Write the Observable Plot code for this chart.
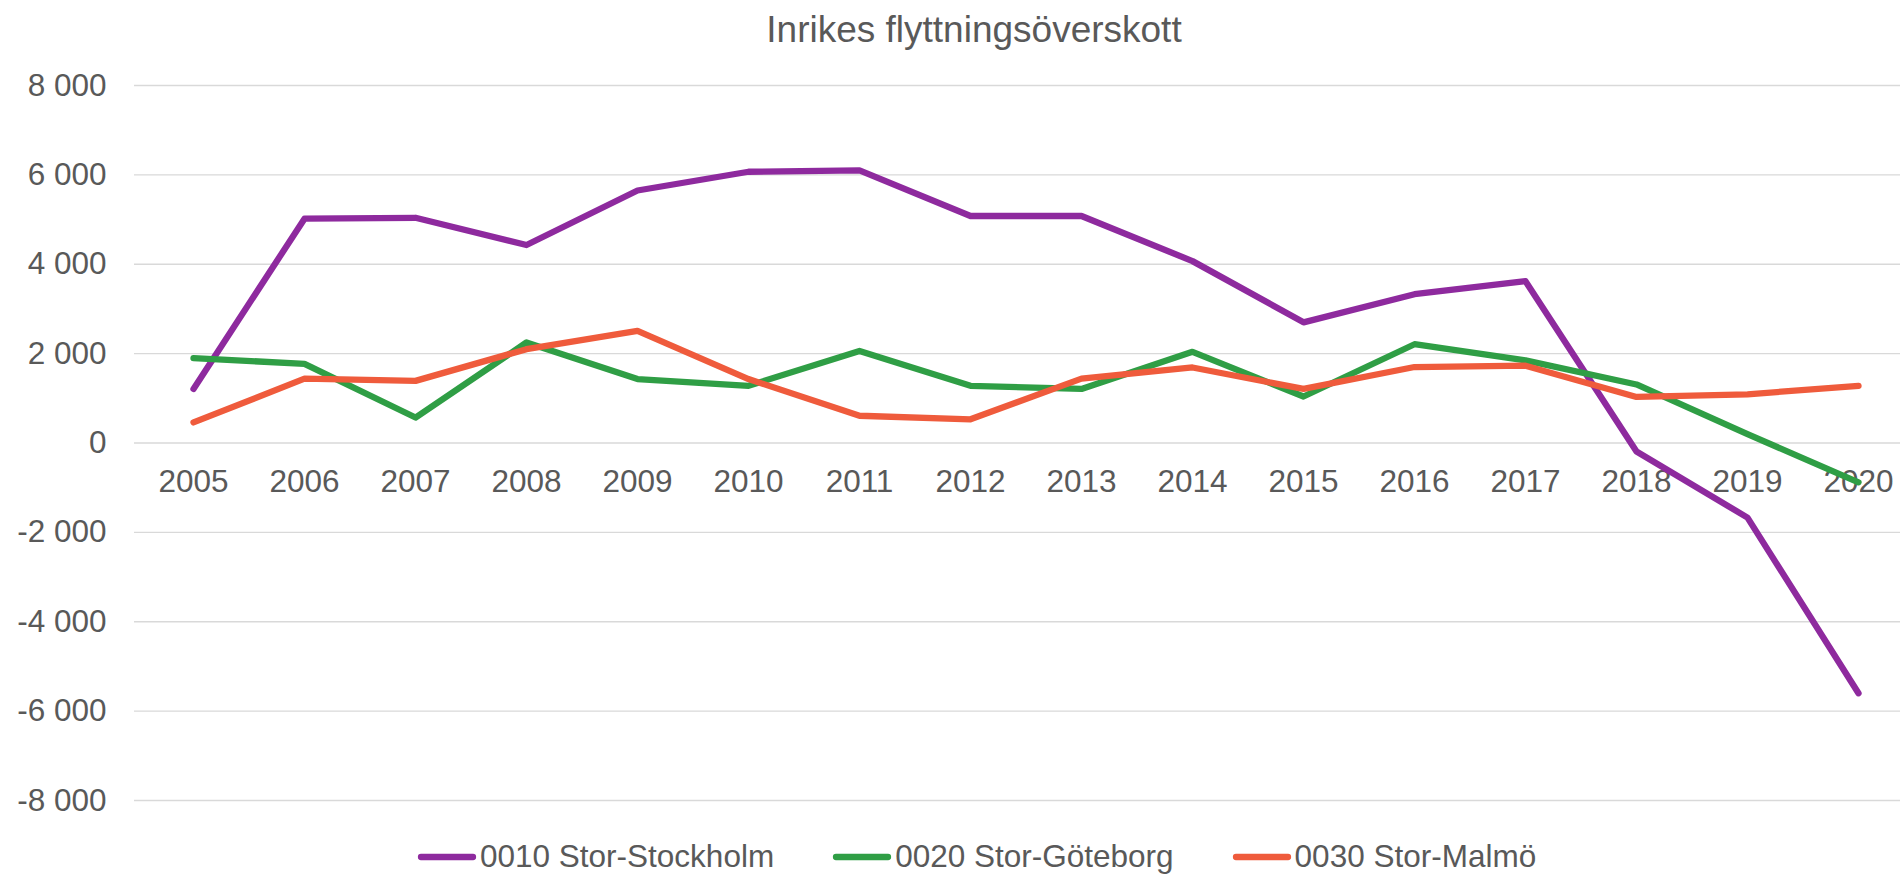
<!DOCTYPE html>
<html>
<head>
<meta charset="utf-8">
<script src="https://cdn.jsdelivr.net/npm/d3@7"></script>
<script src="https://cdn.jsdelivr.net/npm/@observablehq/plot@0.6"></script>
<style>
  html, body { margin: 0; padding: 0; background: #fff; }
  body { width: 1900px; height: 874px; position: relative; overflow: hidden;
         font-family: "Liberation Sans", Arial, sans-serif; color: #595959; }
  #title { position: absolute; left: 48px; width: 1852px; top: 11px; text-align: center;
           font-size: 37px; line-height: 1; }
  #chart { position: absolute; left: 0; top: 60px; }
  #legend { position: absolute; left: 0; top: 840px; width: 1900px; height: 34px;
            display: flex; justify-content: flex-start; align-items: center; }
  .item { display: flex; align-items: center; font-size: 31.5px; line-height: 1; margin-right: 58px; }
  .item svg { margin-right: 3px; }
</style>
</head>
<body>
<div id="title">Inrikes flyttningsöverskott</div>
<div id="chart"></div>
<div id="legend"></div>
<script>
const years = [2005, 2006, 2007, 2008, 2009, 2010, 2011, 2012, 2013, 2014, 2015, 2016, 2017, 2018, 2019, 2020];
const seriesNames = ["0010 Stor-Stockholm", "0020 Stor-Göteborg", "0030 Stor-Malmö"];
const stockholm = [1210, 5020, 5040, 4430, 5650, 6070, 6100, 5080, 5080, 4070, 2700, 3330, 3620, -190, -1670, -5600];
const goteborg  = [1900, 1770, 570, 2250, 1430, 1280, 2060, 1280, 1210, 2040, 1040, 2210, 1850, 1310, 200, -880];
const malmo     = [460, 1440, 1390, 2100, 2510, 1430, 610, 530, 1440, 1690, 1210, 1700, 1730, 1030, 1090, 1280];
const yTicks = [-8000, -6000, -4000, -2000, 0, 2000, 4000, 6000, 8000];
const colors = ["#8E2A9E", "#2F9E45", "#EF5B3C"];

const seriesValues = [stockholm, goteborg, malmo];
const data = seriesNames.flatMap((s, i) => years.map((y, j) => ({series: s, year: y, value: seriesValues[i][j]})));

const fmt = d => (d < 0 ? "-" : "") + d3.format(",")(Math.abs(d)).replace(/,/g, " ");

const chart = Plot.plot({
  width: 1900,
  height: 760,
  marginTop: 25,
  marginBottom: 20,
  marginLeft: 134,
  marginRight: 0,
  style: {fontFamily: '"Liberation Sans", Arial, sans-serif', color: "#595959", background: "transparent", overflow: "visible"},
  x: {type: "point", domain: years, range: [189.7, 1862], padding: 0, axis: null},
  y: {domain: [-8000, 8000], axis: null},
  color: {domain: seriesNames, range: colors},
  marks: [
    Plot.ruleY(yTicks, {stroke: "#d9d9d9", strokeWidth: 1.3}),
    Plot.axisY(yTicks, {tickSize: 0, tickPadding: 28, tickFormat: fmt, fontSize: 31.5, fill: "#595959", label: null}),
    Plot.text(years, {x: d => d, y: () => 0, dy: 39, text: d => String(d), fontSize: 31.5, fill: "#595959", textAnchor: "middle"}),
    Plot.line(data, {x: "year", y: "value", z: "series", stroke: "series", strokeWidth: 6.3, strokeLinecap: "round", strokeLinejoin: "round"})
  ]
});
document.getElementById("chart").appendChild(chart);

const legend = document.getElementById("legend");
legend.style.paddingLeft = "417px";
seriesNames.forEach((s, i) => {
  const item = document.createElement("div");
  item.className = "item";
  item.innerHTML = `<svg width="60" height="10"><line x1="4" y1="5" x2="56" y2="5" stroke="${colors[i]}" stroke-width="6.3" stroke-linecap="round"/></svg><span>${s}</span>`;
  legend.appendChild(item);
});
</script>
</body>
</html>
